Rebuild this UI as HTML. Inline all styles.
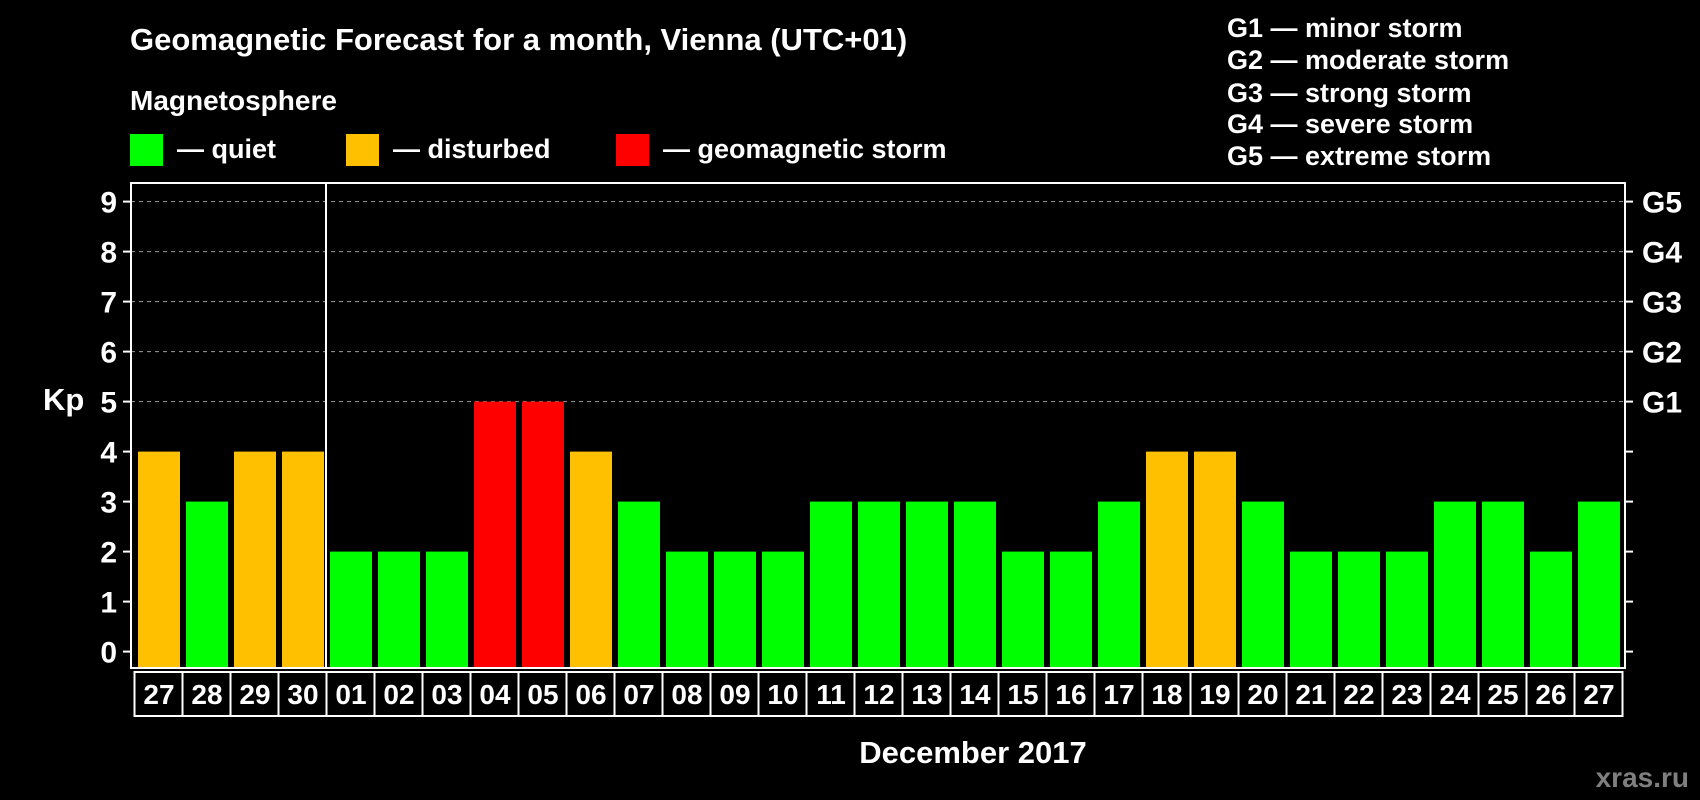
<!DOCTYPE html>
<html><head><meta charset="utf-8"><style>
html,body{margin:0;padding:0;background:#000;}
svg{display:block;font-family:"Liberation Sans",Arial,sans-serif;font-weight:bold;}
</style></head><body>
<svg id="chart" width="1700" height="800" viewBox="0 0 1700 800">
<rect width="1700" height="800" fill="#000"/>
<text x="130" y="50" font-size="31" fill="#fff">Geomagnetic Forecast for a month, Vienna (UTC+01)</text>
<text x="130" y="110" font-size="28" fill="#fff">Magnetosphere</text>
<rect x="130" y="134" width="33" height="32" fill="#00ff00"/>
<text x="177" y="158" font-size="27" fill="#fff">— quiet</text>
<rect x="346" y="134" width="33" height="32" fill="#ffc000"/>
<text x="393" y="158" font-size="27" fill="#fff">— disturbed</text>
<rect x="616" y="134" width="33" height="32" fill="#ff0000"/>
<text x="663" y="158" font-size="27" fill="#fff">— geomagnetic storm</text>
<g font-size="27" fill="#fff">
<text x="1227" y="37">G1 — minor storm</text>
<text x="1227" y="69">G2 — moderate storm</text>
<text x="1227" y="102">G3 — strong storm</text>
<text x="1227" y="133">G4 — severe storm</text>
<text x="1227" y="165">G5 — extreme storm</text>
</g>
<text x="43" y="410" font-size="31" fill="#fff">Kp</text>
<text x="973" y="763" font-size="31" fill="#fff" text-anchor="middle">December 2017</text>
<text x="1689" y="787" font-size="28" fill="#7f7f7f" text-anchor="end">xras.ru</text>
<g id="plot"></g>
</svg>
<script>
const days = ["27","28","29","30","01","02","03","04","05","06","07","08","09","10","11","12","13","14","15","16","17","18","19","20","21","22","23","24","25","26","27"];
const kpValues = [4,3,4,4,2,2,2,5,5,4,3,2,2,2,3,3,3,3,2,2,3,4,4,3,2,2,2,3,3,2,3];
const yTicks = [0,1,2,3,4,5,6,7,8,9];
const gLabels = ["G1","G2","G3","G4","G5"];
const gLevels = [5,6,7,8,9];

const NS = "http://www.w3.org/2000/svg";
const plot = document.getElementById("plot");
const L = 131, R = 1625, T = 183, B = 668;
const y0 = 651.6, unit = 50;
const yScale = v => y0 - v * unit;
const P = 48, BW = 42, X0 = 138;
const xScale = i => X0 + i * P;
function mk(tag, attrs){const e=document.createElementNS(NS,tag);for(const k in attrs)e.setAttribute(k,attrs[k]);plot.appendChild(e);return e;}
function colorFor(v){return v>=5?"#ff0000":(v>=4?"#ffc000":"#00ff00");}

yTicks.forEach(v=>{
  if(v>=5){
    const g=mk("line",{x1:L,x2:R,y1:yScale(v),y2:yScale(v),stroke:"#9a9a9a","stroke-width":1,"stroke-dasharray":"4,4"});
    
    
  }
  const t=mk("line",{x1:L-8,x2:L,y1:yScale(v),y2:yScale(v),stroke:"#fff","stroke-width":2});
  
  
  const t2=mk("line",{x1:R,x2:R+8,y1:yScale(v),y2:yScale(v),stroke:"#fff","stroke-width":2});
  
  
  const lb=mk("text",{x:117,y:yScale(v)+11,"font-size":30,fill:"#fff","text-anchor":"end"});
  lb.textContent=v;
  
  
});
gLabels.forEach((g,i)=>{
  const lb=mk("text",{x:1642,y:yScale(gLevels[i])+11,"font-size":30,fill:"#fff"});
  lb.textContent=g;
  
  
});
kpValues.forEach((v,i)=>{
  const r=mk("rect",{x:xScale(i),y:yScale(v),width:BW,height:B-yScale(v),fill:colorFor(v)});
  
  
});
const fr=mk("rect",{x:L,y:T,width:R-L,height:B-T,fill:"none",stroke:"#fff","stroke-width":2});


const dv=mk("line",{x1:xScale(4)-4,x2:xScale(4)-4,y1:T,y2:B,stroke:"#fff","stroke-width":2});


days.forEach((d,i)=>{
  const bx=mk("rect",{x:xScale(i)-3.5,y:672,width:P,height:44,fill:"none",stroke:"#fff","stroke-width":2});
  
  
  const t=mk("text",{x:xScale(i)+BW/2,y:704,"font-size":28,fill:"#fff","text-anchor":"middle"});
  t.textContent=d;
  
  
});
</script>
</body></html>
